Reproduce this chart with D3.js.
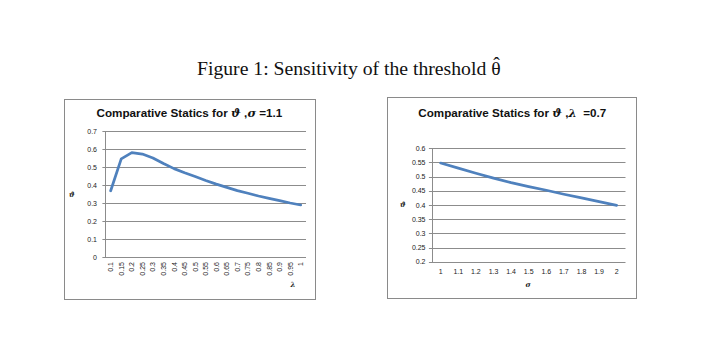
<!DOCTYPE html>
<html><head><meta charset="utf-8">
<script src="https://cdn.jsdelivr.net/npm/d3@7"></script>
<style>body{margin:0;background:#fff;} svg{display:block;} text{white-space:pre;}</style>
</head><body>
<svg id="c" width="728" height="349"></svg>
<script>
// ---- data ----
const lambdaCats = ["0.1","0.15","0.2","0.25","0.3","0.35","0.4","0.45","0.5","0.55","0.6","0.65","0.7","0.75","0.8","0.85","0.9","0.95","1"];
const thetaByLambda = [0.368,0.545,0.580,0.572,0.550,0.519,0.491,0.468,0.447,0.425,0.405,0.387,0.369,0.354,0.339,0.326,0.313,0.300,0.289];
const leftYTicks = [0,0.1,0.2,0.3,0.4,0.5,0.6,0.7];
const leftYTickLabels = ["0","0.1","0.2","0.3","0.4","0.5","0.6","0.7"];

const sigmaCats = ["1","1.1","1.2","1.3","1.4","1.5","1.6","1.7","1.8","1.9","2"];
const thetaBySigma = [0.548,0.530,0.512,0.495,0.479,0.465,0.452,0.438,0.425,0.412,0.399];
const rightYTicks = [0.2,0.25,0.3,0.35,0.4,0.45,0.5,0.55,0.6];
const rightYTickLabels = ["0.2","0.25","0.3","0.35","0.4","0.45","0.5","0.55","0.6"];

const figureTitle = "Figure 1: Sensitivity of the threshold ";
const leftTitleParts = [["Comparative Statics for ",false],["\u03D1",true],[" ,",false],["\u03C3",true],[" =1.1",false]];
const rightTitleParts = [["Comparative Statics for ",false],["\u03D1",true],[" ,",false],["\u03BB",true],["  =0.7",false]];

const svg = d3.select("#c");

function fitText(sel, target){
  const fs = parseFloat(sel.attr("font-size"));
  const w = sel.node().getComputedTextLength();
  sel.attr("font-size", (fs*target/w).toFixed(2));
}

// main title
const mt = svg.append("text").attr("x",197).attr("y",75)
  .attr("font-family","'Liberation Serif', 'DejaVu Serif', serif").attr("font-size",18).attr("fill","#111")
  .text(figureTitle);
mt.append("tspan").text("\u03B8");
fitText(mt, 304);
const hat = mt.append("tspan").attr("dy",-5).text("\u02C6");
{
  const n = figureTitle.length;
  const th = mt.node().getExtentOfChar(n);
  const ht = mt.node().getExtentOfChar(n+1);
  hat.attr("dx", -(th.width/2 + ht.width/2) + 0.5);
}

function chart(cfg){
  const g = svg.append("g");
  g.append("rect").attr("x",cfg.box[0]+0.5).attr("y",cfg.box[1]+0.5)
    .attr("width",cfg.box[2]-cfg.box[0]).attr("height",cfg.box[3]-cfg.box[1])
    .attr("fill","#fff").attr("stroke","#8a8a8a").attr("stroke-width",1);

  const x = d3.scaleBand().domain(cfg.cats).range(cfg.xr).padding(0);
  const y = d3.scaleLinear().domain(cfg.yd).range(cfg.yr);

  // gridlines
  g.append("g").selectAll("line").data(cfg.yticks).join("line")
    .attr("x1", cfg.xr[0]-3).attr("x2", cfg.xr[1])
    .attr("y1", d=>Math.round(y(d))+0.5).attr("y2", d=>Math.round(y(d))+0.5)
    .attr("stroke","#8c8c8c").attr("stroke-width",1);
  // y axis line
  g.append("line").attr("x1",Math.round(cfg.xr[0])+0.5).attr("x2",Math.round(cfg.xr[0])+0.5)
    .attr("y1",cfg.yr[1]).attr("y2",cfg.yr[0]+0.5).attr("stroke","#8c8c8c");

  // y tick labels
  g.append("g").selectAll("text").data(cfg.yticks).join("text")
    .attr("x", cfg.ylabX).attr("y", d=>y(d)+2.5).attr("text-anchor","end")
    .attr("font-family","'Liberation Sans', Arial, sans-serif").attr("font-size",7).attr("fill","#222")
    .text((d,i)=>cfg.ylabels[i]);

  // x tick labels
  const xl = g.append("g").selectAll("text").data(cfg.cats).join("text")
    .attr("font-family","'Liberation Sans', Arial, sans-serif").attr("font-size",7).attr("fill","#222")
    .text(d=>d);
  if(cfg.rotate){
    xl.attr("text-anchor","end")
      .attr("transform", d=>`translate(${x(d)+x.bandwidth()/2+2.5},${cfg.yr[0]+5}) rotate(-90)`);
  } else {
    xl.attr("text-anchor","middle").attr("x", d=>x(d)+x.bandwidth()/2).attr("y", cfg.yr[0]+12);
  }

  // line
  const line = d3.line().x((d,i)=>x(cfg.cats[i])+x.bandwidth()/2).y(d=>y(d));
  g.append("path").datum(cfg.vals).attr("d",line).attr("fill","none")
    .attr("stroke","#4f81bd").attr("stroke-width",2.75).attr("stroke-linejoin","round").attr("stroke-linecap","round");

  // title
  const t = g.append("text").attr("x",cfg.title[0]).attr("y",cfg.title[1])
    .attr("font-family","'Liberation Sans', Arial, sans-serif").attr("font-weight","bold")
    .attr("font-size",12).attr("fill","#111");
  cfg.titleParts.forEach(([s,it])=>{
    const ts = t.append("tspan").text(s);
    if(it) ts.attr("font-family","'DejaVu Serif', serif").attr("font-style","italic");
  });
  fitText(t, cfg.title[2]);

  // axis titles
  g.append("text").attr("x",cfg.yTitle[0]).attr("y",cfg.yTitle[1]).attr("text-anchor","middle")
    .attr("font-family","'DejaVu Serif', serif").attr("font-weight","bold").attr("font-style","italic")
    .attr("font-size",7).attr("fill","#222").text("\u03D1");
  g.append("text").attr("x",cfg.xTitle[0]).attr("y",cfg.xTitle[1]).attr("text-anchor","middle")
    .attr("font-family","'DejaVu Serif', serif").attr("font-weight","bold").attr("font-style","italic")
    .attr("font-size",7).attr("fill","#222").text(cfg.xTitleText);
}

chart({box:[64,99,315,299], cats:lambdaCats, vals:thetaByLambda, xr:[105.4,306], yd:[0,0.7], yr:[257,131],
  yticks:leftYTicks, ylabels:leftYTickLabels, ylabX:97, rotate:true,
  title:[96.5,117,186], titleParts:leftTitleParts, yTitle:[72,196.5], xTitle:[293,287], xTitleText:"\u03BB"});

chart({box:[387,97,636,298], cats:sigmaCats, vals:thetaBySigma, xr:[431.9,625.5], yd:[0.2,0.6], yr:[261.7,148.3],
  yticks:rightYTicks, ylabels:rightYTickLabels, ylabX:425.5, rotate:false,
  title:[418.3,117.3,188], titleParts:rightTitleParts, yTitle:[403,207], xTitle:[528,287], xTitleText:"\u03C3"});
</script>
</body></html>
